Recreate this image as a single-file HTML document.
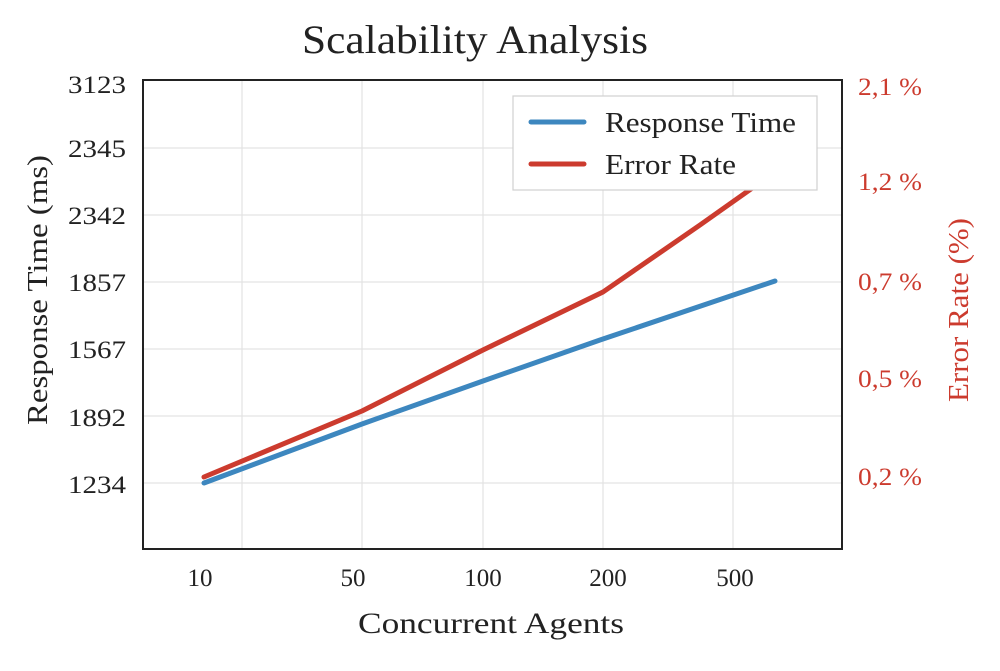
<!DOCTYPE html>
<html><head><meta charset="utf-8"><style>
body{margin:0;background:#fff;}
svg text{font-family:"Liberation Serif",serif;}
</style></head><body>
<svg width="1000" height="666" viewBox="0 0 1000 666" xmlns="http://www.w3.org/2000/svg">
<rect width="1000" height="666" fill="#fff"/>
<g stroke="#e3e3e3" stroke-width="1.2">
<line x1="242" y1="80" x2="242" y2="549"/><line x1="362" y1="80" x2="362" y2="549"/><line x1="483" y1="80" x2="483" y2="549"/><line x1="603" y1="80" x2="603" y2="549"/><line x1="733" y1="80" x2="733" y2="549"/>
<line x1="143" y1="148" x2="842" y2="148"/><line x1="143" y1="215" x2="842" y2="215"/><line x1="143" y1="282" x2="842" y2="282"/><line x1="143" y1="349" x2="842" y2="349"/><line x1="143" y1="416" x2="842" y2="416"/><line x1="143" y1="483" x2="842" y2="483"/>
</g>
<polyline points="204,483 362,424 483,381 600,340 775,281" fill="none" stroke="#3d87bf" stroke-width="5" stroke-linecap="round" stroke-linejoin="round"/>
<polyline points="204,477 362,411 483,350 603,292 700,225 775,172" fill="none" stroke="#cc3b2e" stroke-width="5" stroke-linecap="round" stroke-linejoin="round"/>
<rect x="143" y="80" width="699" height="469" fill="none" stroke="#222" stroke-width="2"/>
<rect x="513" y="96" width="304" height="94" fill="#fff" stroke="#d0d0d0" stroke-width="1.2"/>
<line x1="531" y1="122" x2="584" y2="122" stroke="#3d87bf" stroke-width="5" stroke-linecap="round"/>
<line x1="531" y1="164" x2="584" y2="164" stroke="#cc3b2e" stroke-width="5" stroke-linecap="round"/>
<text x="605" y="132" font-size="28" fill="#222" textLength="191" lengthAdjust="spacingAndGlyphs">Response Time</text>
<text x="605" y="174" font-size="28" fill="#222" textLength="131" lengthAdjust="spacingAndGlyphs">Error Rate</text>
<text x="302" y="53" font-size="40" fill="#222" textLength="346" lengthAdjust="spacingAndGlyphs">Scalability Analysis</text>
<g font-size="25" fill="#222">
<text x="68" y="93" textLength="58" lengthAdjust="spacingAndGlyphs">3123</text><text x="68" y="157" textLength="58" lengthAdjust="spacingAndGlyphs">2345</text><text x="68" y="224" textLength="58" lengthAdjust="spacingAndGlyphs">2342</text><text x="68" y="291" textLength="58" lengthAdjust="spacingAndGlyphs">1857</text><text x="68" y="358" textLength="58" lengthAdjust="spacingAndGlyphs">1567</text><text x="68" y="426" textLength="58" lengthAdjust="spacingAndGlyphs">1892</text><text x="68" y="493" textLength="58" lengthAdjust="spacingAndGlyphs">1234</text>
</g>
<g font-size="25" fill="#cc3b2e">
<text x="858" y="95" textLength="64" lengthAdjust="spacingAndGlyphs">2,1 %</text><text x="858" y="190" textLength="64" lengthAdjust="spacingAndGlyphs">1,2 %</text><text x="858" y="290" textLength="64" lengthAdjust="spacingAndGlyphs">0,7 %</text><text x="858" y="387" textLength="64" lengthAdjust="spacingAndGlyphs">0,5 %</text><text x="858" y="485" textLength="64" lengthAdjust="spacingAndGlyphs">0,2 %</text>
</g>
<g font-size="25" fill="#222" text-anchor="middle">
<text x="200" y="586">10</text><text x="353" y="586">50</text><text x="483" y="586">100</text><text x="608" y="586">200</text><text x="735" y="586">500</text>
</g>
<text x="358" y="633" font-size="30" fill="#222" textLength="266" lengthAdjust="spacingAndGlyphs">Concurrent Agents</text>
<text transform="translate(47,425) rotate(-90)" font-size="29" fill="#222" textLength="270" lengthAdjust="spacingAndGlyphs">Response Time (ms)</text>
<text transform="translate(968,402) rotate(-90)" font-size="29" fill="#cc3b2e" textLength="184" lengthAdjust="spacingAndGlyphs">Error Rate (%)</text>
</svg>
</body></html>
